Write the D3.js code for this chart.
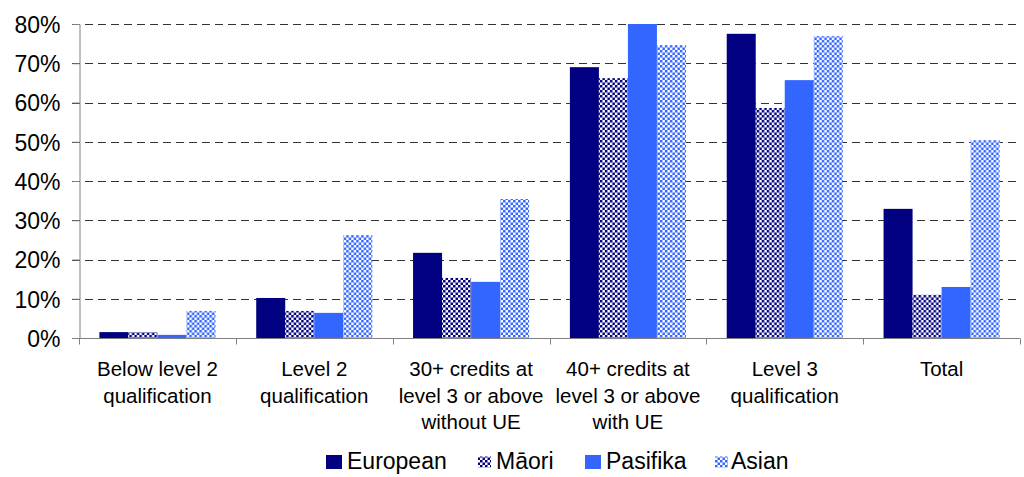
<!DOCTYPE html>
<html>
<head>
<meta charset="utf-8">
<script src="https://cdn.jsdelivr.net/npm/d3@7"></script>
<style>
  body { margin: 0; background: #fff; }
  text { font-family: "Liberation Sans", Arial, sans-serif; fill: #000; }
</style>
</head>
<body>
<div id="chart"></div>
<script>
// Chart data
const categories = [
  ["Below level 2", "qualification"],
  ["Level 2", "qualification"],
  ["30+ credits at", "level 3 or above", "without UE"],
  ["40+ credits at", "level 3 or above", "with UE"],
  ["Level 3", "qualification"],
  ["Total"]
];
const seriesNames = ["European", "Māori", "Pasifika", "Asian"];
const european = [1.5, 10.2, 21.7, 69.0, 77.5, 32.9];
const maori    = [1.5, 6.9, 15.3, 66.2, 58.6, 11.0];
const pasifika = [0.8, 6.4, 14.3, 80.0, 65.7, 13.0];
const asian    = [6.9, 26.2, 35.4, 74.6, 76.9, 50.4];
const yTicks = [0, 10, 20, 30, 40, 50, 60, 70, 80];

const seriesValues = [european, maori, pasifika, asian];

// SVG setup
const width = 1024, height = 477;
const margin = { top: 24, right: 4, bottom: 139, left: 79 };

const svg = d3.select("#chart").append("svg")
  .attr("width", width)
  .attr("height", height);

// patterns for Maori / Asian bars
const defs = svg.append("defs");
function checker(id, color) {
  const p = defs.append("pattern")
    .attr("id", id)
    .attr("patternUnits", "userSpaceOnUse")
    .attr("width", 5)
    .attr("height", 5);
  p.append("rect").attr("width", 5).attr("height", 5).attr("fill", "#fff");
  p.append("rect").attr("width", 2.5).attr("height", 2.5).attr("fill", color);
  p.append("rect").attr("x", 2.5).attr("y", 2.5).attr("width", 2.5).attr("height", 2.5).attr("fill", color);
}
checker("pat-maori", "#000080");
checker("pat-asian", "#3366ff");

const fills = ["#000080", "url(#pat-maori)", "#3366ff", "url(#pat-asian)"];

const x0 = d3.scaleBand()
  .domain(d3.range(categories.length))
  .range([margin.left, width - margin.right])
  .paddingInner(0.26)
  .paddingOuter(0.13);

const x1 = d3.scaleBand()
  .domain(d3.range(seriesNames.length))
  .range([0, x0.bandwidth()]);

const y = d3.scaleLinear()
  .domain([0, 80])
  .range([height - margin.bottom, margin.top]);

// gridlines
svg.append("g")
  .selectAll("line")
  .data(yTicks.filter(d => d > 0))
  .join("line")
  .attr("x1", margin.left - 7)
  .attr("x2", width - margin.right)
  .attr("y1", d => Math.round(y(d)) + 0.5)
  .attr("y2", d => Math.round(y(d)) + 0.5)
  .attr("stroke", "#333")
  .attr("stroke-dasharray", "8,5");

// bars
const groups = svg.append("g")
  .selectAll("g")
  .data(categories.map((c, i) => i))
  .join("g")
  .attr("transform", i => `translate(${x0(i)},0)`);

groups.selectAll("rect")
  .data(i => seriesValues.map((s, k) => ({ k: k, v: s[i] })))
  .join("rect")
  .attr("x", d => x1(d.k))
  .attr("width", x1.bandwidth())
  .attr("y", d => y(d.v))
  .attr("height", d => y(0) - y(d.v))
  .attr("fill", d => fills[d.k]);

// y axis
const yAxis = svg.append("g")
  .attr("transform", `translate(${margin.left + 0.5},0)`)
  .call(d3.axisLeft(y).tickValues(yTicks).tickFormat(d => d + "%").tickSize(7).tickPadding(12));
yAxis.select(".domain").attr("stroke", "#808080");
yAxis.selectAll(".tick line").attr("stroke", "#808080");
yAxis.selectAll(".tick text")
  .attr("dy", "0.36em")
  .style("font-size", "23px")
  .style("font-family", "Liberation Sans, Arial, sans-serif");

// x axis line and category ticks
const x0Pos = Math.round(y(0)) + 0.5;
svg.append("line")
  .attr("x1", margin.left - 7)
  .attr("x2", width - margin.right)
  .attr("y1", x0Pos)
  .attr("y2", x0Pos)
  .attr("stroke", "#808080");

svg.append("g")
  .selectAll("line")
  .data(d3.range(categories.length + 1))
  .join("line")
  .attr("x1", i => Math.round(margin.left + i * (width - margin.right - margin.left) / categories.length) + 0.5)
  .attr("x2", i => Math.round(margin.left + i * (width - margin.right - margin.left) / categories.length) + 0.5)
  .attr("y1", x0Pos)
  .attr("y2", x0Pos + 6)
  .attr("stroke", "#808080");

// category labels
const labels = svg.append("g")
  .selectAll("text")
  .data(categories)
  .join("text")
  .attr("x", (d, i) => x0(i) + x0.bandwidth() / 2)
  .attr("y", 376)
  .attr("text-anchor", "middle")
  .style("font-size", "20.5px");

labels.selectAll("tspan")
  .data(d => d)
  .join("tspan")
  .attr("x", function () { return this.parentNode.getAttribute("x"); })
  .attr("dy", (d, i) => i === 0 ? 0 : 26.5)
  .text(d => d);

// legend
const legendItems = [
  { x: 326, w: 16, h: 14, tx: 347, text: seriesNames[0], fill: fills[0] },
  { x: 478, w: 13, h: 11, tx: 496, text: seriesNames[1], fill: fills[1] },
  { x: 585, w: 16, h: 14, tx: 606, text: seriesNames[2], fill: fills[2] },
  { x: 715, w: 13, h: 11, tx: 731, text: seriesNames[3], fill: fills[3] }
];
const li = svg.append("g")
  .selectAll("g")
  .data(legendItems)
  .join("g");
li.append("rect")
  .attr("x", d => d.x)
  .attr("y", d => 462 - d.h / 2)
  .attr("width", d => d.w)
  .attr("height", d => d.h)
  .attr("fill", d => d.fill);
li.append("text")
  .attr("x", d => d.tx)
  .attr("y", 469)
  .style("font-size", "23px")
  .text(d => d.text);
</script>
</body>
</html>
